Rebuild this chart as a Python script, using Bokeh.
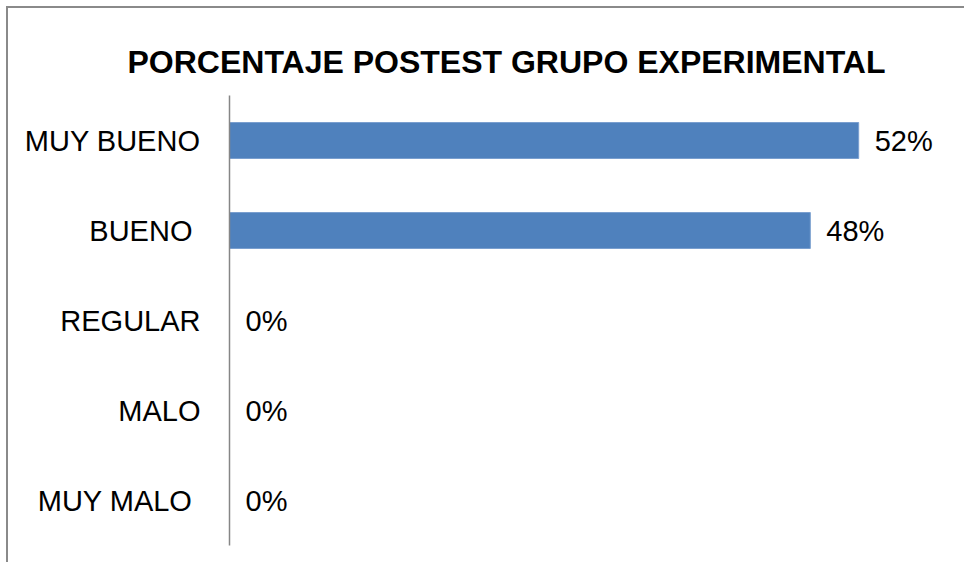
from bokeh.plotting import figure
from bokeh.models import FactorRange, Range1d, ColumnDataSource
from bokeh.core.properties import value
from bokeh.embed import file_html
from bokeh.resources import INLINE

# category names as in the source sheet (two carry a trailing space)
categories = ["MUY MALO\u00a0", "MALO", "REGULAR", "BUENO\u00a0", "MUY BUENO"]
percentages = [0, 0, 0, 48, 52]
value_labels = ["0%", "0%", "0%", "48%", "52%"]
title_text = "PORCENTAJE POSTEST GRUPO EXPERIMENTAL"

src = ColumnDataSource(dict(cat=categories, pct=percentages, lab=value_labels))

FONT = "Liberation Sans"

p = figure(width=958, height=556,
           y_range=FactorRange(factors=categories),
           x_range=Range1d(0, 60),
           output_backend="svg", toolbar_location=None,
           min_border_left=221, min_border_right=11,
           min_border_top=87, min_border_bottom=19,
           title=title_text)

p.styles = {"margin-top": "6px", "margin-left": "6px",
            "border-top": "2px solid #8a8a8a", "border-left": "2px solid #8a8a8a"}

p.title.text_font = FONT
p.title.text_font_size = "32px"
p.title.text_font_style = "bold"
p.title.text_color = "black"
p.title.align = "left"
p.title.offset = -102
p.title.standoff = 32

p.hbar(y="cat", right="pct", left=0, height=0.4, source=src,
       fill_color="#4F81BD", line_color="#7A9FCF", line_width=1)

p.text(x="pct", y="cat", text="lab", source=src, x_offset=16,
       text_baseline="middle", text_align="left",
       text_font=value(FONT), text_font_size="29px", text_color="black")

p.xaxis.visible = False
p.xgrid.visible = False
p.ygrid.visible = False
p.outline_line_color = None

ax = p.yaxis[0]
ax.major_tick_line_color = None
ax.minor_tick_line_color = None
ax.axis_line_color = "#868686"
ax.axis_line_width = 1.5
ax.major_label_text_font = FONT
ax.major_label_text_font_size = "29px"
ax.major_label_text_color = "black"
ax.major_label_standoff = 23

open("out.html", "w").write(file_html(p, INLINE))
